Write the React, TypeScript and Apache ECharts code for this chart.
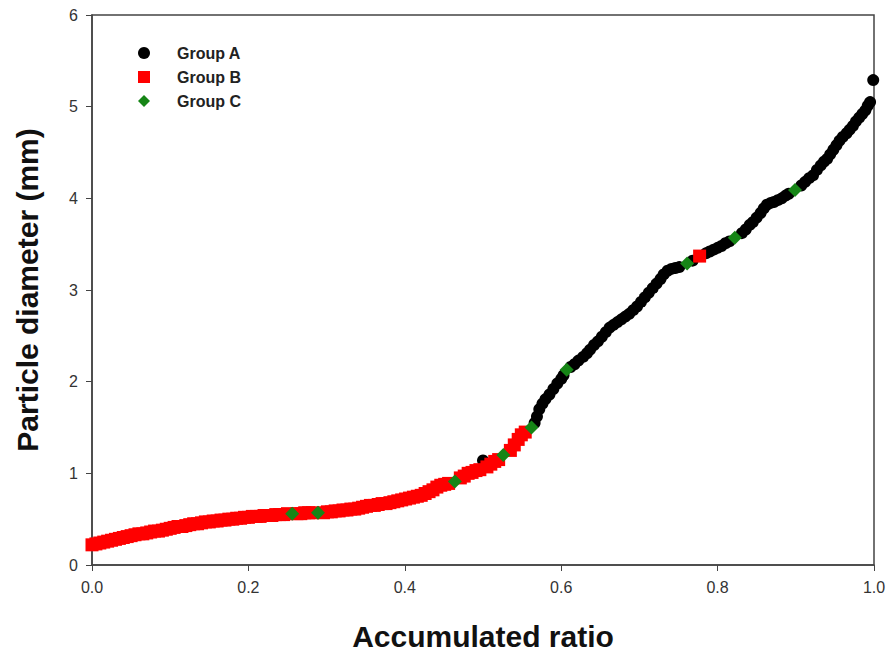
import React, { useEffect, useRef } from "react";
import * as echarts from "echarts";

const xTicks = [0, 0.2, 0.4, 0.6, 0.8, 1.0];
const yTicks = [0, 1, 2, 3, 4, 5, 6];

const groupA: [number, number][] = [
  [0.5, 1.14],
  [0.566, 1.55], [0.569, 1.62], [0.572, 1.7], [0.576, 1.76], [0.58, 1.81], [0.585, 1.86],
  [0.59, 1.92], [0.595, 1.98], [0.6, 2.03], [0.603, 2.07], [0.612, 2.16], [0.617, 2.19],
  [0.622, 2.23], [0.628, 2.27], [0.633, 2.31], [0.637, 2.35], [0.642, 2.4], [0.647, 2.44],
  [0.652, 2.49], [0.657, 2.54], [0.662, 2.59], [0.667, 2.62], [0.672, 2.65], [0.677, 2.68],
  [0.682, 2.71], [0.687, 2.74], [0.692, 2.78], [0.697, 2.82], [0.702, 2.87], [0.707, 2.92],
  [0.712, 2.97], [0.717, 3.02], [0.722, 3.07], [0.727, 3.12], [0.731, 3.17], [0.736, 3.21],
  [0.741, 3.23], [0.746, 3.24], [0.751, 3.25], [0.768, 3.32], [0.785, 3.4], [0.79, 3.42],
  [0.795, 3.44], [0.8, 3.46], [0.805, 3.48], [0.81, 3.51], [0.815, 3.53], [0.831, 3.62],
  [0.836, 3.66], [0.841, 3.71], [0.845, 3.74], [0.85, 3.79], [0.855, 3.84], [0.859, 3.89],
  [0.863, 3.93], [0.868, 3.95], [0.872, 3.96], [0.877, 3.98], [0.882, 4.0], [0.887, 4.03],
  [0.891, 4.05], [0.907, 4.14], [0.912, 4.18], [0.917, 4.22], [0.922, 4.25], [0.927, 4.31],
  [0.932, 4.36], [0.936, 4.4], [0.94, 4.43], [0.944, 4.48], [0.948, 4.53], [0.952, 4.58],
  [0.956, 4.63], [0.96, 4.67], [0.965, 4.71], [0.969, 4.75], [0.973, 4.79], [0.977, 4.84],
  [0.981, 4.88], [0.985, 4.92], [0.989, 4.96], [0.992, 5.01], [0.995, 5.05], [0.999, 5.29]
];

const groupB: [number, number][] = [
  [0.0, 0.22], [0.005, 0.23], [0.01, 0.24], [0.015, 0.25], [0.02, 0.26], [0.025, 0.27],
  [0.03, 0.28], [0.035, 0.29], [0.04, 0.3], [0.045, 0.31], [0.05, 0.32], [0.055, 0.33],
  [0.06, 0.34], [0.065, 0.34], [0.07, 0.35], [0.075, 0.36], [0.08, 0.37], [0.085, 0.37],
  [0.09, 0.38], [0.095, 0.39], [0.1, 0.4], [0.105, 0.41], [0.11, 0.42], [0.115, 0.42],
  [0.12, 0.43], [0.125, 0.44], [0.13, 0.45], [0.135, 0.45], [0.14, 0.46], [0.145, 0.47],
  [0.15, 0.47], [0.155, 0.48], [0.16, 0.48], [0.165, 0.49], [0.17, 0.49], [0.175, 0.5],
  [0.18, 0.5], [0.185, 0.51], [0.19, 0.51], [0.195, 0.52], [0.2, 0.52], [0.205, 0.53],
  [0.21, 0.53], [0.215, 0.53], [0.22, 0.54], [0.225, 0.54], [0.23, 0.54], [0.235, 0.55],
  [0.24, 0.55], [0.245, 0.55], [0.25, 0.56], [0.262, 0.56], [0.267, 0.56], [0.272, 0.57],
  [0.277, 0.57], [0.282, 0.57], [0.296, 0.57], [0.301, 0.58], [0.306, 0.58], [0.311, 0.59],
  [0.316, 0.59], [0.321, 0.6], [0.326, 0.6], [0.331, 0.61], [0.336, 0.61], [0.341, 0.62],
  [0.346, 0.63], [0.351, 0.64], [0.356, 0.65], [0.361, 0.65], [0.366, 0.66], [0.371, 0.67],
  [0.376, 0.67], [0.381, 0.68], [0.386, 0.69], [0.391, 0.7], [0.396, 0.71], [0.401, 0.72],
  [0.406, 0.73], [0.411, 0.74], [0.416, 0.75], [0.421, 0.76], [0.426, 0.78], [0.431, 0.8],
  [0.436, 0.82], [0.441, 0.85], [0.446, 0.87], [0.451, 0.88], [0.456, 0.89], [0.471, 0.95],
  [0.476, 0.97], [0.481, 1.0], [0.486, 1.01], [0.491, 1.03], [0.496, 1.04], [0.505, 1.07],
  [0.51, 1.1], [0.515, 1.13], [0.52, 1.15], [0.535, 1.25], [0.54, 1.31], [0.545, 1.37],
  [0.549, 1.42], [0.554, 1.45], [0.777, 3.37]
];

const groupC: [number, number][] = [
  [0.256, 0.56], [0.289, 0.57], [0.464, 0.91], [0.526, 1.2], [0.562, 1.5], [0.607, 2.13],
  [0.761, 3.29], [0.822, 3.57], [0.899, 4.09]
];

const FONT = "Arial, 'Liberation Sans', sans-serif";

export default function App() {
  const ref = useRef<HTMLDivElement>(null);
  useEffect(() => {
    if (!ref.current) return;
    const chart = echarts.init(ref.current, undefined, { renderer: "svg" });
    chart.setOption({
      animation: false,
      backgroundColor: "#ffffff",
      grid: {
        left: 92, top: 15, right: 20, bottom: 97,
        show: true, borderColor: "#444", borderWidth: 1.5, backgroundColor: "transparent"
      },
      legend: {
        left: 133, top: 40, orient: "vertical", itemGap: 8,
        itemWidth: 12, itemHeight: 12,
        textStyle: { fontFamily: FONT, fontWeight: "bold", fontSize: 16, color: "#222", padding: [0, 0, 0, 22] },
        data: [
          { name: "Group A", icon: "circle" },
          { name: "Group B", icon: "rect" },
          { name: "Group C", icon: "diamond" }
        ]
      },
      xAxis: {
        type: "value", min: xTicks[0], max: xTicks[xTicks.length - 1], interval: 0.2,
        name: "Accumulated ratio", nameLocation: "middle", nameGap: 56,
        nameTextStyle: { fontFamily: FONT, fontWeight: "bold", fontSize: 30, color: "#111" },
        axisLine: { lineStyle: { color: "#444", width: 1.5 } },
        axisTick: { show: true, inside: false, length: 6, lineStyle: { color: "#444" } },
        axisLabel: { fontFamily: FONT, fontSize: 16, color: "#333", margin: 14, formatter: (v: number) => v.toFixed(1) },
        splitLine: { show: false }
      },
      yAxis: {
        type: "value", min: yTicks[0], max: yTicks[yTicks.length - 1], interval: 1,
        name: "Particle diameter (mm)", nameLocation: "middle", nameGap: 50,
        nameTextStyle: { fontFamily: FONT, fontWeight: "bold", fontSize: 30, color: "#111" },
        axisLine: { lineStyle: { color: "#444", width: 1.5 } },
        axisTick: { show: true, inside: false, length: 6, lineStyle: { color: "#444" } },
        axisLabel: { fontFamily: FONT, fontSize: 16, color: "#333", margin: 14 },
        splitLine: { show: false }
      },
      series: [
        { name: "Group A", type: "scatter", symbol: "circle", symbolSize: 12, itemStyle: { color: "#000000", opacity: 1 }, data: groupA, z: 2 },
        { name: "Group B", type: "scatter", symbol: "rect", symbolSize: 13, itemStyle: { color: "#ff0000", opacity: 1 }, data: groupB, z: 3 },
        { name: "Group C", type: "scatter", symbol: "diamond", symbolSize: 14, itemStyle: { color: "#168516", opacity: 1 }, data: groupC, z: 4 }
      ]
    });
    return () => chart.dispose();
  }, []);
  return <div ref={ref} style={{ position: "fixed", left: 0, top: 0, width: 894, height: 662 }} />;
}
